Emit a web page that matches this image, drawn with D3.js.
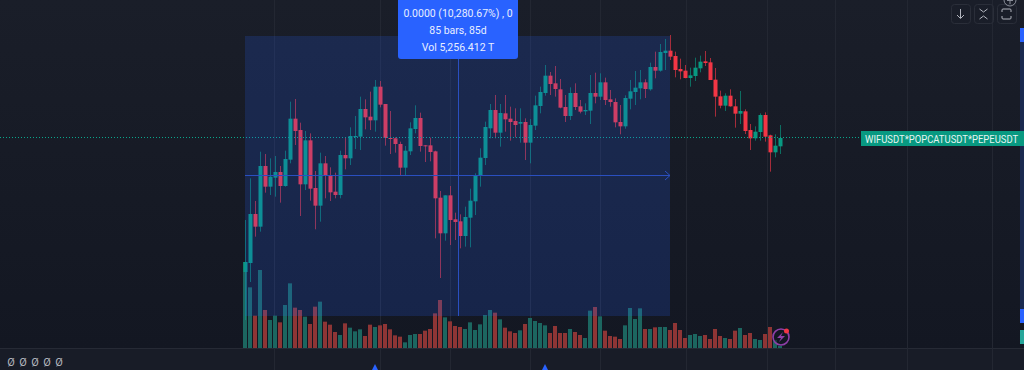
<!DOCTYPE html>
<html>
<head>
<meta charset="utf-8">
<script src="https://cdn.jsdelivr.net/npm/d3@7"></script>
<style>
html, body { margin: 0; padding: 0; background: #131722; overflow: hidden; }
svg { display: block; font-family: Roboto, sans-serif; }
</style>
</head>
<body>
<script>
// price is in index points, there is no price axis in the screenshot to read real values from
var opens = [274,301,448,410,592,530,557,574,532,611,734,700,537,669,526,473,600,564,515,505,625,615,679,680,763,740,729,830,778,676,675,658,587,636,703,736,654,654,636,497,390,504,432,426,382,437,486,563,616,705,760,692,750,734,727,719,724,662,713,772,811,863,840,822,769,742,811,771,756,758,811,800,843,792,784,724,711,794,814,825,843,822,889,878,931,938,922,883,878,856,862,885,906,903,851,801,773,803,771,749,756,700,675,694,745,684,633,651];
var highs = [430,555,487,635,628,615,622,592,638,785,793,722,697,690,577,632,622,588,572,638,678,708,742,800,792,815,850,847,778,757,678,665,652,723,774,752,655,677,638,517,504,532,452,447,470,524,570,645,725,778,805,778,805,770,765,765,735,733,803,830,895,874,892,853,805,828,840,790,780,865,872,870,857,820,795,775,804,850,877,880,852,902,935,958,973,985,935,914,895,887,917,923,937,916,886,818,810,822,793,817,762,718,711,750,753,686,687,715];
var lows = [130,244,380,395,512,505,500,482,530,600,655,442,520,488,402,425,495,487,495,495,582,595,643,640,702,700,695,768,653,628,632,564,565,625,690,635,604,606,375,256,368,355,370,345,350,348,445,530,595,675,675,650,695,668,678,662,610,600,700,750,803,805,800,765,724,730,760,750,745,718,780,790,775,770,708,687,704,762,775,792,796,818,855,875,880,910,858,852,855,830,847,873,892,850,740,765,757,770,707,718,688,640,668,668,665,575,618,628];
var closes = [304,448,410,592,530,560,574,532,613,734,697,537,669,524,473,600,564,513,505,625,615,682,682,763,738,729,830,776,676,675,658,587,638,705,736,652,651,634,495,390,504,430,424,382,439,488,563,617,709,760,692,751,732,724,715,724,662,715,774,814,863,838,823,767,742,811,769,755,760,811,800,843,790,784,723,711,796,816,827,843,823,889,878,934,938,920,880,876,856,864,887,905,901,850,800,773,803,771,749,757,697,675,695,745,680,633,653,676];
var volumes = [258,182,97,234,114,84,97,77,129,194,121,114,94,72,124,139,79,70,48,39,74,61,50,56,36,70,63,68,72,56,38,34,17,39,42,42,52,57,104,144,92,80,66,63,57,77,54,71,99,114,106,86,61,50,45,53,72,90,81,75,68,45,66,45,45,57,48,39,30,112,123,95,52,36,34,27,68,120,87,119,57,57,62,63,63,54,75,54,30,39,42,36,39,27,57,36,30,27,52,60,39,45,27,24,42,63,24,6];
var gridBars = [5.8, 27, 41, 57, 71, 88.2, 104.4, 118, 132.4, 149.4];
var measureFrom = 0, measureTo = 85, measureMid = 42.6;
var lastPrice = 678;
var tooltipLines = ["0.0000 (10,280.67%) , 0", "85 bars, 85d", "Vol 5,256.412 T"];
var symbolLabel = "WIFUSDT*POPCATUSDT*PEPEUSDT";
var legendMarks = ["Ø", "Ø", "Ø", "Ø", "Ø"];
var eventBars = [26, 60];

var width = 1024, height = 370, paneBottom = 348;
var upColor = "#089981", downColor = "#f23645";

var x = d3.scaleLinear().domain([0, 107]).range([245, 780]);
var y = d3.scaleLinear().domain([1000, 0]).range([30, 30 + 1000 / 3]);
var yVol = d3.scaleLinear().domain([0, 3]).range([paneBottom, paneBottom - 1]);

var svg = d3.select("body").append("svg")
    .attr("width", width)
    .attr("height", height);

var grad = svg.append("defs").append("linearGradient")
    .attr("id", "bg").attr("x1", 0).attr("x2", 0).attr("y1", 0).attr("y2", 1);
grad.append("stop").attr("offset", 0).attr("stop-color", "#1a1e29");
grad.append("stop").attr("offset", 1).attr("stop-color", "#131722");

svg.append("rect").attr("width", width).attr("height", paneBottom).attr("fill", "url(#bg)");
svg.append("rect").attr("y", paneBottom).attr("width", width).attr("height", height - paneBottom).attr("fill", "#181c27");
svg.append("line").attr("x1", 0).attr("x2", width).attr("y1", paneBottom + .5).attr("y2", paneBottom + .5).attr("stroke", "#262a35");

svg.selectAll(".grid").data(gridBars).enter().append("line")
    .attr("class", "grid")
    .attr("x1", d => Math.round(x(d)) + .5)
    .attr("x2", d => Math.round(x(d)) + .5)
    .attr("y1", 0).attr("y2", height)
    .attr("stroke", "#232732");

var bars = d3.range(opens.length);
var isUp = i => closes[i] >= opens[i];

svg.selectAll(".vol").data(bars).enter().append("rect")
    .attr("class", "vol")
    .attr("x", i => x(i) - 2)
    .attr("width", 4)
    .attr("y", i => yVol(volumes[i]))
    .attr("height", i => paneBottom - yVol(volumes[i]))
    .attr("fill", i => isUp(i) ? "#1c6660" : "#8e3535");

svg.selectAll(".wick").data(bars).enter().append("line")
    .attr("class", "wick")
    .attr("x1", i => x(i) + .5)
    .attr("x2", i => x(i) + .5)
    .attr("y1", i => y(highs[i]))
    .attr("y2", i => y(lows[i]))
    .attr("stroke", i => isUp(i) ? upColor : downColor)
    .attr("stroke-opacity", .65);

svg.selectAll(".body").data(bars).enter().append("rect")
    .attr("class", "body")
    .attr("x", i => x(i) - 1.5)
    .attr("width", 4)
    .attr("y", i => y(Math.max(opens[i], closes[i])))
    .attr("height", i => Math.max(1, Math.abs(y(opens[i]) - y(closes[i]))))
    .attr("fill", i => isUp(i) ? upColor : downColor);

// last price line
svg.append("line")
    .attr("x1", 0).attr("x2", 861)
    .attr("y1", Math.round(y(lastPrice)) + .5).attr("y2", Math.round(y(lastPrice)) + .5)
    .attr("stroke", "#0aa58b")
    .attr("stroke-dasharray", "1 2");

// measure box on top of the candles
var boxLeft = x(measureFrom), boxRight = x(measureTo);
svg.append("rect")
    .attr("x", boxLeft).attr("y", 36)
    .attr("width", boxRight - boxLeft).attr("height", 280)
    .attr("fill", "#2962ff").attr("fill-opacity", .18);

svg.append("line")
    .attr("x1", boxLeft).attr("x2", boxRight)
    .attr("y1", 175.5).attr("y2", 175.5)
    .attr("stroke", "#2a4fc0");
svg.append("path")
    .attr("d", "M" + (boxRight - 5) + ",171L" + boxRight + ",175.5L" + (boxRight - 5) + ",180")
    .attr("fill", "none").attr("stroke", "#2a4fc0");
svg.append("line")
    .attr("x1", Math.round(x(measureMid)) + .5).attr("x2", Math.round(x(measureMid)) + .5)
    .attr("y1", 59).attr("y2", 316)
    .attr("stroke", "#2a4fc0");

// tooltip
svg.append("rect")
    .attr("x", 398).attr("y", -4).attr("width", 120).attr("height", 63).attr("rx", 3)
    .attr("fill", "#2962ff");
svg.selectAll(".tip").data(tooltipLines).enter().append("text")
    .attr("class", "tip")
    .attr("x", 458)
    .attr("y", (d, i) => 17 + i * 17)
    .attr("text-anchor", "middle")
    .attr("font-size", 10.5)
    .attr("fill", "#e8eeff")
    .text(d => d);

// price scale marks on the right edge
svg.append("rect").attr("x", 1020).attr("y", 36).attr("width", 4).attr("height", 280).attr("fill", "#1a2a50");
svg.append("rect").attr("x", 1020).attr("y", 28).attr("width", 4).attr("height", 14).attr("fill", "#2962ff");
svg.append("rect").attr("x", 1020).attr("y", 309).attr("width", 4).attr("height", 14).attr("fill", "#2962ff");
svg.append("rect").attr("x", 1020).attr("y", 330).attr("width", 4).attr("height", 14).attr("fill", "#26a69a");

svg.append("rect").attr("x", 861).attr("y", 131).attr("width", 159).attr("height", 15).attr("fill", upColor);
svg.append("rect").attr("x", 1020).attr("y", 131).attr("width", 4).attr("height", 15).attr("fill", upColor);
svg.append("text")
    .attr("transform", "translate(865,142.5) scale(.86,1)")
    .attr("font-size", 11)
    .attr("fill", "#e6f5f2")
    .text(symbolLabel);

// buttons top right
svg.selectAll(".btn").data([951, 974, 997]).enter().append("rect")
    .attr("class", "btn")
    .attr("x", d => d + .5).attr("y", 4.5)
    .attr("width", 19).attr("height", 19).attr("rx", 3)
    .attr("fill", "none").attr("stroke", "#2a2e39");
var iconColor = "#b2b5be";
svg.append("path").attr("d", "M960.5,9V18M957,15L960.5,18.5L964,15").attr("fill", "none").attr("stroke", iconColor);
svg.append("path").attr("d", "M979.5,9L983.5,12L987.5,9M979.5,19L983.5,16L987.5,19").attr("fill", "none").attr("stroke", iconColor);
svg.append("path").attr("d", "M1002,12V10Q1002,9 1003,9H1010Q1011,9 1011,10V12M1002,16V18Q1002,19 1003,19H1010Q1011,19 1011,18V16").attr("fill", "none").attr("stroke", iconColor);
svg.append("circle").attr("cx", 1010).attr("cy", 0).attr("r", 6).attr("fill", "none").attr("stroke", "#8a8e99");
svg.append("path").attr("d", "M1007,0.5H1013M1010,-3V4").attr("stroke", "#8a8e99");

// lightning badge
svg.append("circle").attr("cx", 781).attr("cy", 337).attr("r", 8)
    .attr("fill", "#131722").attr("fill-opacity", .55)
    .attr("stroke", "#8e3fa8").attr("stroke-width", 1.6);
svg.append("path").attr("d", "M783,332L777,338H781L779,342L785,336H781Z").attr("fill", "#8e3fa8");
svg.append("circle").attr("cx", 786.5).attr("cy", 331).attr("r", 2.5).attr("fill", "#f23645");

// bottom strip
svg.selectAll(".leg").data(legendMarks).enter().append("text")
    .attr("class", "leg")
    .attr("x", (d, i) => 11 + i * 12)
    .attr("y", 366)
    .attr("text-anchor", "middle")
    .attr("font-size", 11)
    .attr("fill", "#b2b5be")
    .text(d => d);

svg.selectAll(".event").data(eventBars).enter().append("path")
    .attr("class", "event")
    .attr("d", i => "M" + x(i) + ",364L" + (x(i) + 3) + ",370H" + (x(i) - 3) + "Z")
    .attr("fill", "#2962ff");
</script>
</body>
</html>
